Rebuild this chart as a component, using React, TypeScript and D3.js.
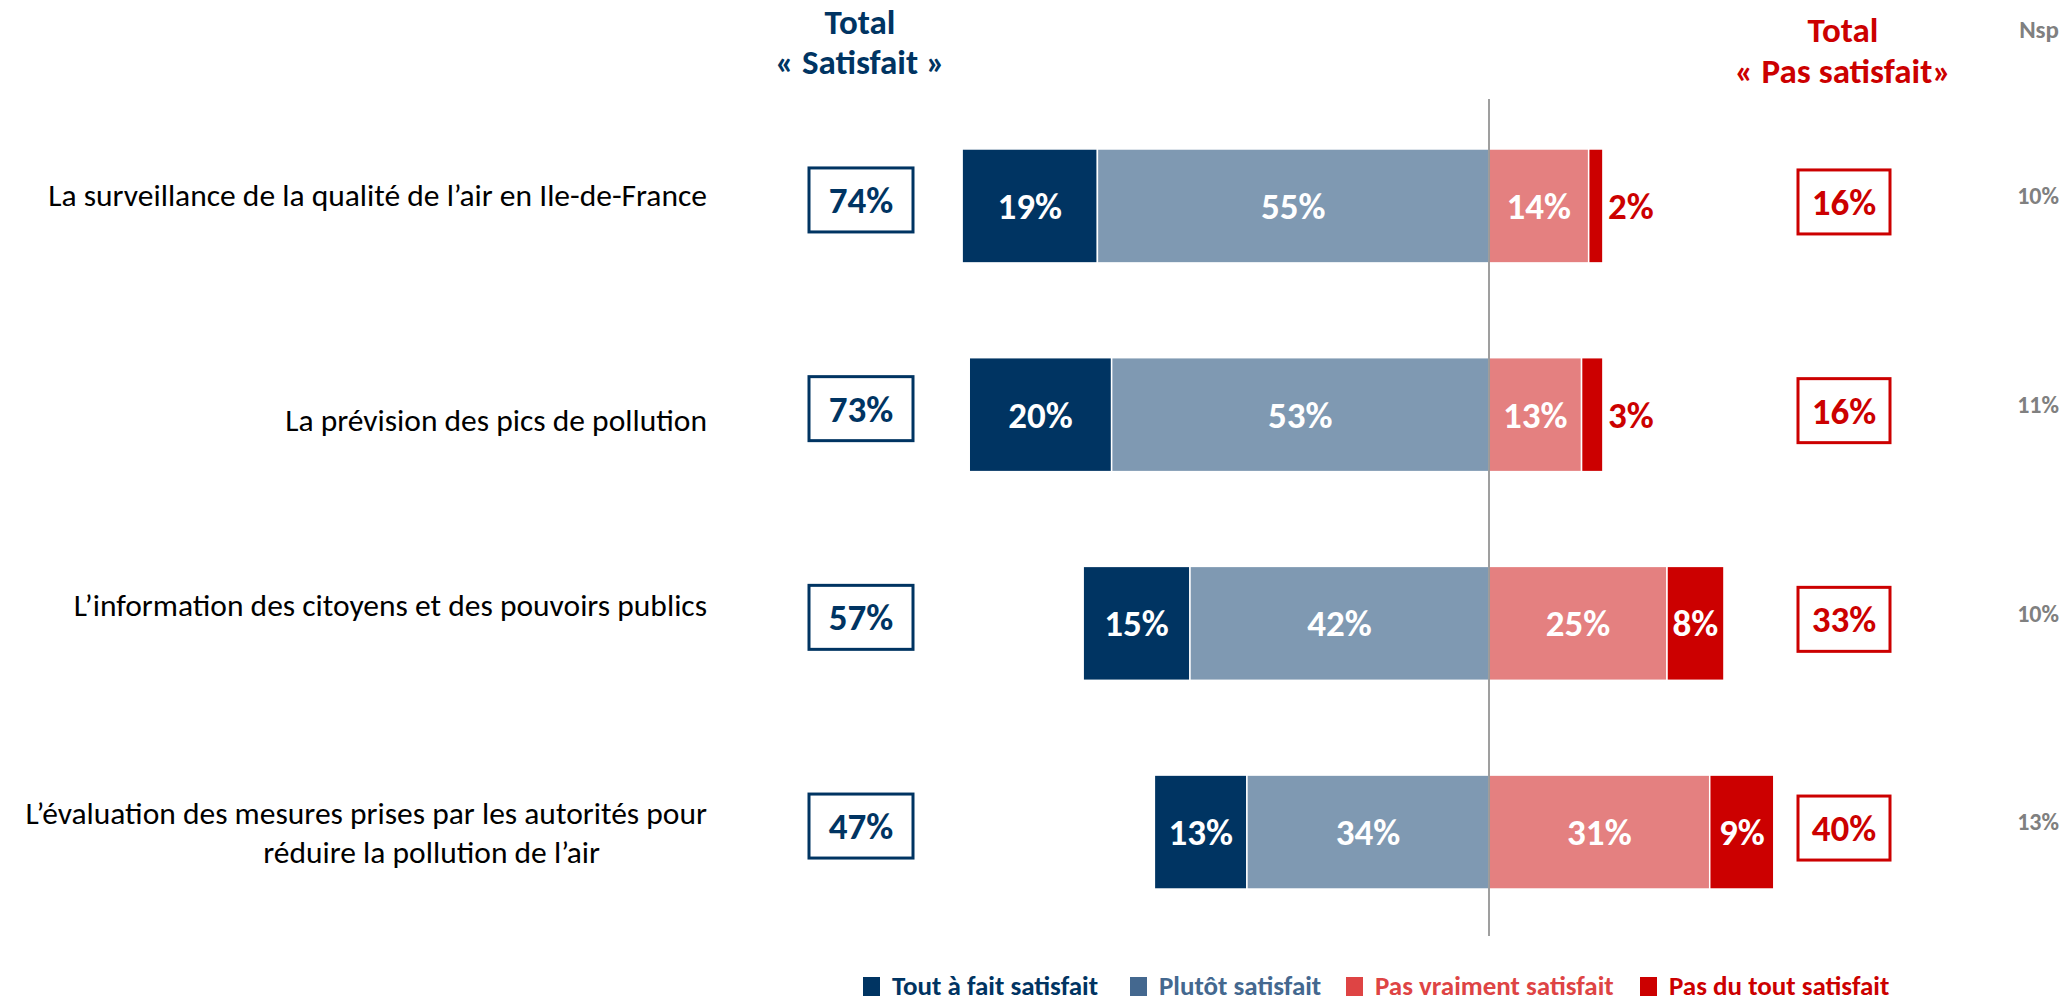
import * as d3 from 'd3';

const categories = [
  'La surveillance de la qualité de l’air en Ile-de-France',
  'La prévision des pics de pollution',
  'L’information des citoyens et des pouvoirs publics',
  'L’évaluation des mesures prises par les autorités pour|réduire la pollution de l’air',
];
const toutAFait = [19, 20, 15, 13];
const plutot = [55, 53, 42, 34];
const pasVraiment = [14, 13, 25, 31];
const pasDuTout = [2, 3, 8, 9];
const totalSatisfait = [74, 73, 57, 47];
const totalPasSatisfait = [16, 16, 33, 40];
const nsp = [10, 11, 10, 13];
const legendLabels = ['Tout à fait satisfait', 'Plutôt satisfait', 'Pas vraiment satisfait', 'Pas du tout satisfait'];

const W = 2067;
const H = 1005;
const FONT = 'Carlito, Lato, sans-serif';
const NAVY = '#003462';
const RED = '#cc0000';
const barColors = [NAVY, '#7f99b2', '#e48080', RED];
const legendSwatch = [NAVY, '#44688f', '#de4444', RED];
const legendX = [863, 1130, 1346, 1640];
const labelDy = [-11, 5, -18, 0];

const x = d3.scaleLinear().domain([-80, 80]).range([1489 - 80 * 7.12, 1489 + 80 * 7.12]);
const y = d3.scaleBand<number>().domain(d3.range(categories.length)).range([101.6, 936.4])
  .paddingInner(0.454).paddingOuter(0.227);

export default function App() {
  const bh = y.bandwidth();
  return (
    <svg width={W} height={H} style={{ position: 'absolute', left: 0, top: 0, fontFamily: FONT }}>
      <rect width={W} height={H} fill="#fff" />

      {/* headers */}
      <g fontWeight="bold" fontSize={35} textAnchor="middle">
        <text x={860} y={34} fill={NAVY}>Total</text>
        <text x={860} y={74} fill={NAVY}>« Satisfait »</text>
        <text x={1843} y={42} fill={RED}>Total</text>
        <text x={1843} y={83} fill={RED}>« Pas satisfait»</text>
      </g>
      <text x={2059} y={38} fill="#808080" fontWeight="bold" fontSize={25} textAnchor="end">Nsp</text>

      {categories.map((c, i) => {
        const yc = (y(i) as number) + bh / 2;
        const lines = c.split('|');
        const segs = [-toutAFait[i] - plutot[i], -plutot[i], 0, pasVraiment[i]];
        const vals = [toutAFait[i], plutot[i], pasVraiment[i], pasDuTout[i]];
        return (
          <g key={i}>
            {lines.length === 1 ? (
              <text x={707} y={yc + labelDy[i]} dy="0.35em" fontSize={31.5} textAnchor="end" fill="#000">{lines[0]}</text>
            ) : (
              <g fontSize={31.5} fill="#000" textAnchor="end">
                <text x={707} y={yc - 19} dy="0.35em">{lines[0]}</text>
                <text x={600} y={yc + 20} dy="0.35em">{lines[1]}</text>
              </g>
            )}
            {vals.map((v, k) => {
              const x0 = x(segs[k]);
              const w = x(segs[k] + v) - x0;
              const inside = w > 30;
              return (
                <g key={k}>
                  <rect x={x0} y={y(i)} width={w} height={bh} fill={barColors[k]} stroke="#fff" strokeWidth={1.5} />
                  <text
                    x={inside ? x0 + w / 2 : x0 + w + 5}
                    y={yc}
                    dy="0.35em"
                    textAnchor={inside ? 'middle' : 'start'}
                    fontWeight="bold"
                    fontSize={37}
                    fill={inside ? '#fff' : RED}
                  >{v}%</text>
                </g>
              );
            })}
            <rect x={809} y={yc - 38} width={104} height={64} fill="#fff" stroke={NAVY} strokeWidth={3} />
            <text x={861} y={yc - 6} dy="0.35em" textAnchor="middle" fontWeight="bold" fontSize={37} fill={NAVY}>{totalSatisfait[i]}%</text>
            <rect x={1798} y={yc - 36} width={92} height={64} fill="#fff" stroke={RED} strokeWidth={3} />
            <text x={1844} y={yc - 4} dy="0.35em" textAnchor="middle" fontWeight="bold" fontSize={37} fill={RED}>{totalPasSatisfait[i]}%</text>
            <text x={2059} y={yc - 10} dy="0.35em" textAnchor="end" fontWeight="bold" fontSize={24} fill="#808080">{nsp[i]}%</text>
          </g>
        );
      })}

      <line x1={x(0)} x2={x(0)} y1={99} y2={936} stroke="#7f7f7f" strokeWidth={1.5} />

      {/* legend */}
      {legendLabels.map((l, k) => (
        <g key={k}>
          <rect x={legendX[k]} y={977} width={17} height={19} fill={legendSwatch[k]} />
          <text x={legendX[k] + 29} y={986} dy="0.35em" fontWeight="bold" fontSize={27} fill={legendSwatch[k]}>{l}</text>
        </g>
      ))}
    </svg>
  );
}
